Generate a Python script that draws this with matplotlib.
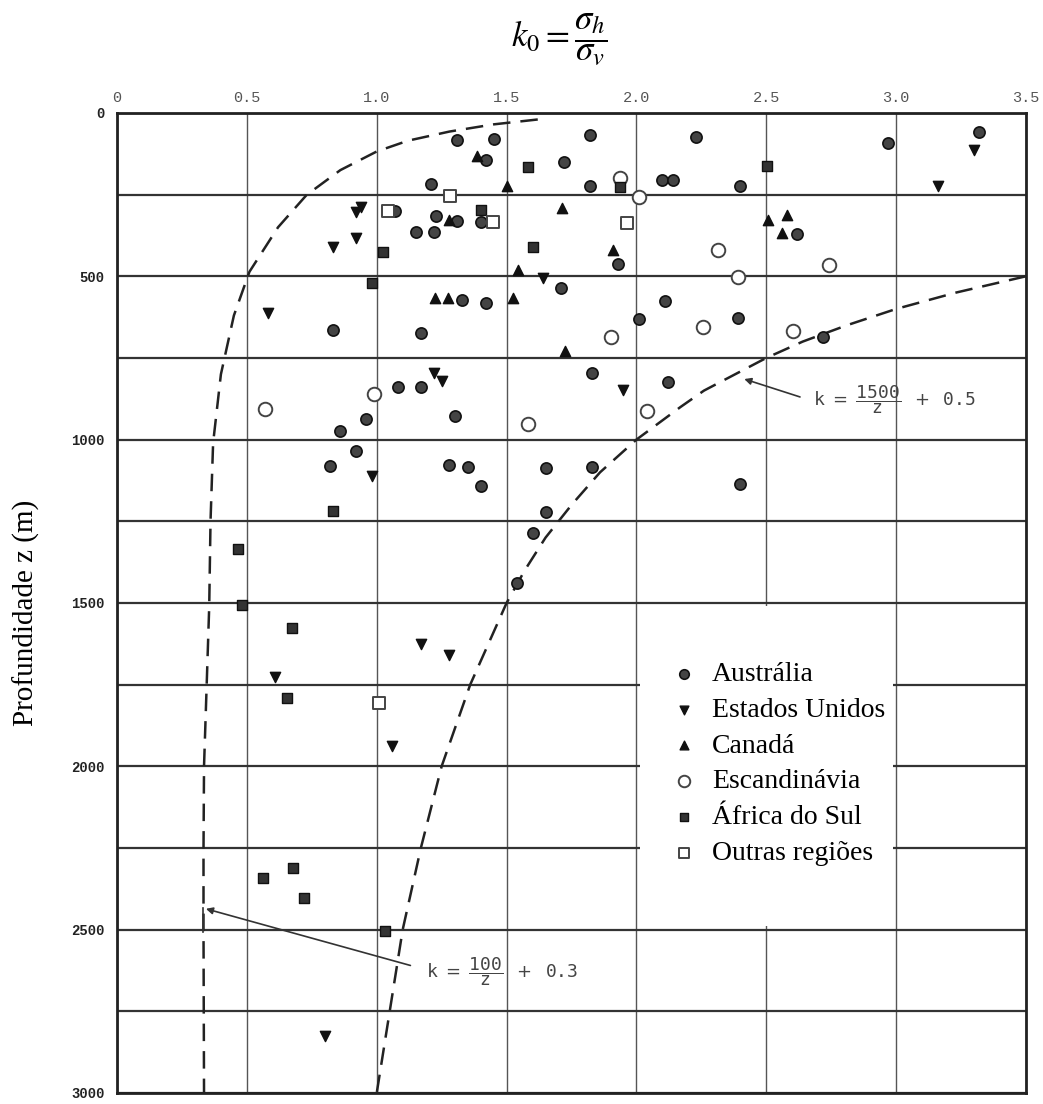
import matplotlib.pyplot as plt
from matplotlib.patches import Rectangle

# k0 (x) and depth z in m (y)
aus_k = [1.31, 1.45, 1.82, 1.42, 1.72, 1.21, 1.82, 1.07, 1.23, 1.31, 1.40, 1.15, 1.22,
         1.71, 1.33, 1.42, 0.83, 1.17, 1.83, 2.23, 2.97, 3.32, 2.10, 2.14, 2.40, 2.62,
         1.93, 2.11, 2.01, 2.39, 2.72, 2.12, 1.83, 2.40, 1.08, 1.17, 1.30, 0.96, 0.86,
         0.92, 0.82, 1.28, 1.35, 1.40, 1.65, 1.65, 1.60, 1.54]
aus_z = [83, 81, 67, 144, 149, 218, 225, 299, 315, 331, 335, 363, 363,
         537, 572, 581, 664, 674, 796, 75, 93, 57, 205, 205, 223, 370,
         462, 577, 632, 628, 685, 825, 1085, 1136, 840, 838, 927, 938, 973,
         1034, 1081, 1077, 1083, 1142, 1088, 1223, 1285, 1438]

usa_k = [0.92, 0.94, 0.83, 0.92, 1.64, 0.58, 1.22, 1.25, 3.30, 3.16, 1.95, 0.98,
         1.17, 1.28, 0.61, 1.06, 0.80]
usa_z = [302, 287, 409, 384, 506, 613, 797, 822, 113, 225, 848, 1111,
         1625, 1659, 1727, 1938, 2827]

can_k = [1.385, 1.50, 1.715, 1.28, 1.545, 1.225, 1.275, 1.525, 1.725, 2.508, 2.578, 2.559, 1.911]
can_z = [131, 225, 292, 328, 481, 567, 567, 567, 728, 328, 312, 368, 421]

sca_k = [1.937, 2.009, 2.315, 2.392, 2.743, 2.258, 1.901, 2.604, 2.042, 0.57, 0.99, 1.584]
sca_z = [200, 256, 419, 503, 465, 656, 687, 666, 911, 907, 860, 952]

afr_k = [1.40, 1.584, 1.603, 1.025, 0.981, 2.501, 1.937, 0.833, 0.465, 0.48, 0.673,
         0.653, 0.563, 0.679, 0.72, 1.032]
afr_z = [297, 166, 409, 425, 521, 162, 227, 1220, 1336, 1506, 1577,
         1792, 2343, 2312, 2404, 2503]

out_k = [1.282, 1.044, 1.449, 1.962, 1.01]
out_z = [254, 299, 333, 336, 1805]

# dashed envelope curves
lo_k = [1.62, 1.45, 1.28, 1.12, 1.0, 0.86, 0.73, 0.62, 0.51, 0.45, 0.40, 0.37,
        0.36, 0.355, 0.345, 0.335, 0.333, 0.333, 0.335]
lo_z = [20, 35, 57, 85, 118, 175, 251, 350, 486, 620, 800, 1010,
        1250, 1510, 1756, 2000, 2256, 2500, 3000]
hi_k = [3.5, 3.23, 3.0, 2.81, 2.64, 2.5, 2.26, 2.17, 2.0, 1.86, 1.75, 1.65, 1.57,
        1.5, 1.36, 1.25, 1.17, 1.1, 1.05, 1.0]
hi_z = [500, 550, 600, 650, 700, 750, 850, 900, 1000, 1100, 1200, 1300, 1400,
        1500, 1750, 2000, 2250, 2500, 2750, 3000]

x_ticks = [0, 0.5, 1.0, 1.5, 2.0, 2.5, 3.0, 3.5]
x_labels = ['0', '0.5', '1.0', '1.5', '2.0', '2.5', '3.0', '3.5']
y_ticks = list(range(0, 3001, 250))
y_labels = [str(v) if v % 500 == 0 else '' for v in y_ticks]

fig = plt.figure(figsize=(10.43, 11.04), dpi=100)
ax = fig.add_axes([0.1122, 0.01, 0.8715, 0.8877])

ax.set_xlim(0, 3.5)
ax.set_ylim(3000, 0)
ax.xaxis.tick_top()
ax.set_xticks(x_ticks)
ax.set_xticklabels(x_labels)
ax.set_yticks(y_ticks)
ax.set_yticklabels(y_labels)
ax.tick_params(axis='x', length=0, pad=6)
ax.tick_params(axis='y', length=0, pad=9)
for lab in ax.get_xticklabels():
    lab.set_fontfamily('Liberation Mono')
    lab.set_fontsize(11)
    lab.set_color('#555555')
for lab in ax.get_yticklabels():
    lab.set_fontfamily('Liberation Mono')
    lab.set_fontsize(10)
    lab.set_color('#222222')
    lab.set_fontweight('bold')

ax.set_axisbelow(True)
ax.grid(axis='y', color='#333333', lw=1.6)
ax.grid(axis='x', color='#555555', lw=1.0)
for s in ax.spines.values():
    s.set_linewidth(2)
    s.set_color('#222222')

# white patch behind the legend
ax.add_patch(Rectangle((2.012, 1510), 0.976, 980, facecolor='white', edgecolor='none', zorder=1))

ax.plot(lo_k, lo_z, color='#222222', lw=1.8, dashes=(7, 4), zorder=2)
ax.plot(hi_k, hi_z, color='#222222', lw=1.8, dashes=(7, 4), zorder=2)

ax.scatter(aus_k, aus_z, marker='o', s=65, facecolor='#444444', edgecolor='#111111', lw=1.2,
           zorder=3, label='Austrália')
ax.scatter(usa_k, usa_z, marker='v', s=55, facecolor='#111111', edgecolor='#111111',
           zorder=3, label='Estados Unidos')
ax.scatter(can_k, can_z, marker='^', s=55, facecolor='#111111', edgecolor='#111111',
           zorder=3, label='Canadá')
ax.scatter(sca_k, sca_z, marker='o', s=95, facecolor='white', edgecolor='#444444', lw=1.4,
           zorder=3, label='Escandinávia')
ax.scatter(afr_k, afr_z, marker='s', s=55, facecolor='#333333', edgecolor='#111111',
           zorder=3, label='África do Sul')
ax.scatter(out_k, out_z, marker='s', s=65, facecolor='white', edgecolor='#444444', lw=1.4,
           zorder=3, label='Outras regiões')

ax.legend(loc='upper left', bbox_to_anchor=(0.611, 0.44), frameon=False,
          prop={'family': 'Liberation Serif', 'size': 20}, borderpad=0, borderaxespad=0,
          handlelength=0.8, handletextpad=0.62, labelspacing=0.37, scatterpoints=1,
          markerscale=0.85)

# equation labels with leader lines
ax.annotate('', xy=(2.405, 812), xytext=(2.64, 872),
            arrowprops=dict(arrowstyle='-|>', color='#333333', lw=1.2, mutation_scale=10))
ax.text(2.68, 878, r'$\mathtt{k}\;=\;\dfrac{\mathtt{1500}}{\mathtt{z}}\;\;+\;\;\mathtt{0.5}$',
        va='center', ha='left', fontsize=13, color='#444444', math_fontfamily='dejavusans')

ax.plot([0.332, 0.332], [2434, 2506], color='#333333', lw=1.2, zorder=2)
ax.annotate('', xy=(0.332, 2434), xytext=(1.14, 2612),
            arrowprops=dict(arrowstyle='-|>', color='#333333', lw=1.2, mutation_scale=10))
ax.text(1.19, 2629, r'$\mathtt{k}\;=\;\dfrac{\mathtt{100}}{\mathtt{z}}\;\;+\;\;\mathtt{0.3}$',
        va='center', ha='left', fontsize=13, color='#444444', math_fontfamily='dejavusans')

ax.set_ylabel('Profundidade z (m)', family='Liberation Serif', fontsize=21)
ax.yaxis.set_label_coords(-0.085, 0.49)
fig.text(0.536, 0.965, r'$k_0 = \dfrac{\sigma_h}{\sigma_v}$', ha='center', va='center',
         fontsize=25, math_fontfamily='stix')

fig.savefig('out.png', dpi=100)
